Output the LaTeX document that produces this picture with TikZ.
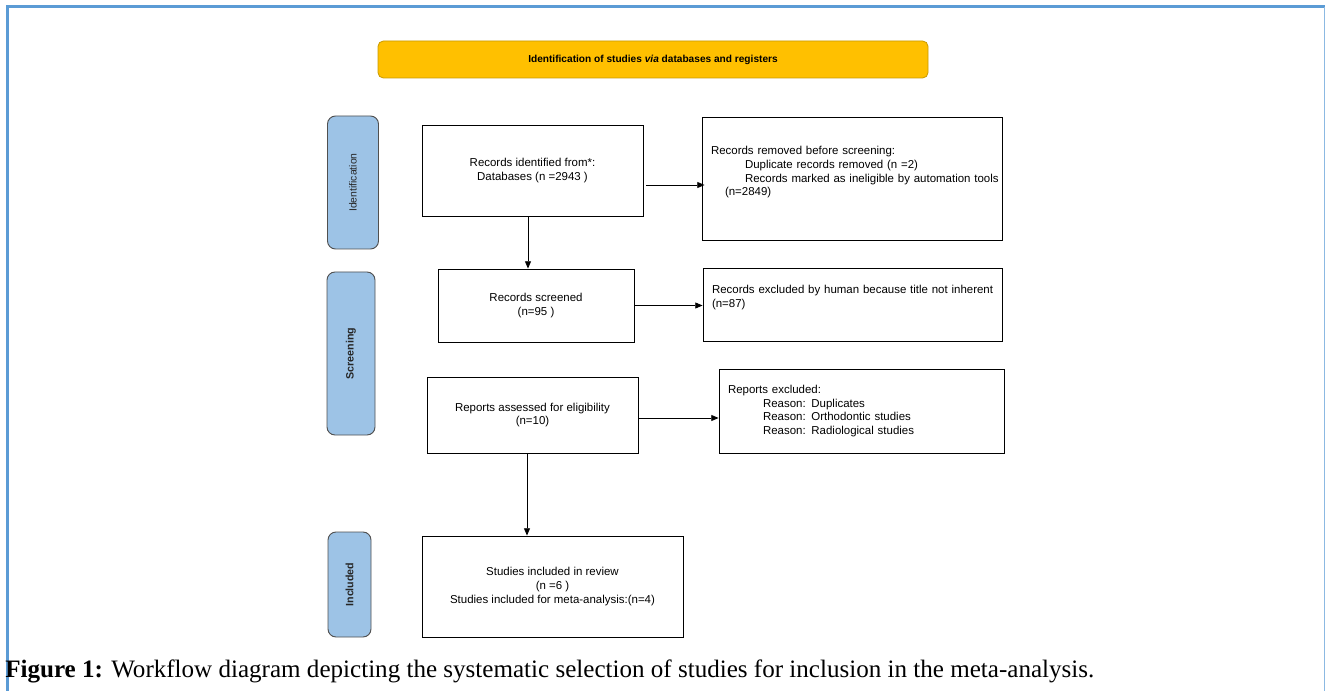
\documentclass[tikz,border=0pt]{standalone}
\usepackage{fontspec}
\setmainfont{Liberation Sans}
\newfontfamily\capfont{Liberation Serif}
\usetikzlibrary{arrows.meta}
\newcommand{\pxu}{0.75pt}
\definecolor{framecol}{HTML}{5B9BD5}
\definecolor{bannergold}{HTML}{FFC000}
\definecolor{bannerline}{HTML}{C99A00}
\definecolor{stageblue}{HTML}{9DC3E6}
\definecolor{stageline}{HTML}{505050}
\begin{document}
\begin{tikzpicture}[x=0.75pt,y=-0.75pt]
	\tikzset{stage/.style={draw=stageline, fill=stageblue, rounded corners=6pt, line width=0.7pt, inner sep=0pt, text=black!85},
		box/.style={draw=black, line width=0.6pt, inner sep=0pt, align=center, font=\fontsize{8.6}{10.2}\selectfont},
		leftbox/.style={box, align=left, inner xsep=6.75pt},
		arr/.style={-{Triangle[length=5.5pt,width=4.5pt]}, line width=0.65pt}}
	\useasboundingbox (0,0) rectangle (1326,691);

	% frame
	\draw[framecol, line width=3*\pxu] (7,691) -- (7,7) -- (1325,7);
	\draw[framecol!70, line width=1*\pxu] (1324.5,7) -- (1324.5,691);

	% banner
	\node[draw=bannerline, fill=bannergold, rounded corners=4pt, line width=0.6pt, minimum width=550*\pxu, minimum height=37*\pxu, font=\bfseries\fontsize{7.6}{9}\selectfont] (banner) at (653,59.5) {Identification of studies \textit{via} databases and registers};

	% stages
	\node[stage, minimum width=51*\pxu, minimum height=133*\pxu, font=\fontsize{7.8}{9}\selectfont] (ident) at (353,182.5) {\rotatebox{90}{Identification}};
	\node[stage, minimum width=48*\pxu, minimum height=163*\pxu, font=\bfseries\fontsize{8}{9}\selectfont] (screen) at (351,353.5) {\rotatebox{90}{Screening}};
	\node[stage, minimum width=43*\pxu, minimum height=105*\pxu, font=\bfseries\fontsize{8}{9}\selectfont] (incl) at (349.5,584.5) {\rotatebox{90}{Included}};

	% boxes
	\node[box, minimum width=221*\pxu, minimum height=91*\pxu] (recid) at (532.5,170.5) {Records identified from*:\\Databases (n =2943 )};
	\node[leftbox, text width=211.5pt, text depth=41.5pt, minimum height=123*\pxu] (removed) at (852,178.5) {\mbox{Records removed before screening:}\\
		\mbox{\hspace*{25.5pt}Duplicate records removed (n =2)}\\
		\mbox{\hspace*{25.5pt}Records marked as ineligible by automation tools}\\
		\mbox{\hspace*{10.5pt}(n=2849)}};
	\node[box, minimum width=196*\pxu, minimum height=73*\pxu] (screened) at (536,305.5) {Records screened\\(n=95 )};
	\node[leftbox, text width=210.75pt, text depth=22.5pt, minimum height=73*\pxu] (human) at (852.5,304.5) {\mbox{Records excluded by human because title not inherent}\\(n=87)};
	\node[box, minimum width=211*\pxu, minimum height=76*\pxu] (assessed) at (532.5,415) {Reports assessed for eligibility\\(n=10)};
	\node[leftbox, text width=200.25pt, minimum height=84*\pxu] (repex) at (861.5,411) {Reports excluded:\\
		\mbox{\hspace*{26.25pt}Reason: Duplicates}\\
		\mbox{\hspace*{26.25pt}Reason: Orthodontic studies}\\
		\mbox{\hspace*{26.25pt}Reason: Radiological studies}};
	\node[box, minimum width=261*\pxu, minimum height=101*\pxu] (included) at (552.5,586.5) {Studies included in review\\(n =6 )\\Studies included for meta-analysis:(n=4)};

	% arrows
	\draw[arr] ([shift={(3,14.5)}]recid.east) -- ([shift={(3,14.5)}]recid.east -| removed.west);
	\draw[arr] ([shift={(-4.5,0)}]recid.south) -- ([shift={(-4.5,0)}]recid.south |- screened.north);
	\draw[arr] (screened.east) -- (screened.east -| human.west);
	\draw[arr] ([shift={(0,3)}]assessed.east) -- ([shift={(0,3)}]assessed.east -| repex.west);
	\draw[arr] ([shift={(-5.5,0)}]assessed.south) -- ([shift={(-5.5,0)}]assessed.south |- included.north);

	% caption
	\node[anchor=base west, inner sep=0pt, font=\capfont\fontsize{18.8}{22}\selectfont] (caption) at (5,677) {\textbf{Figure 1:} Workflow diagram depicting the systematic selection of studies for inclusion in the meta-analysis.};
\end{tikzpicture}
\end{document}
